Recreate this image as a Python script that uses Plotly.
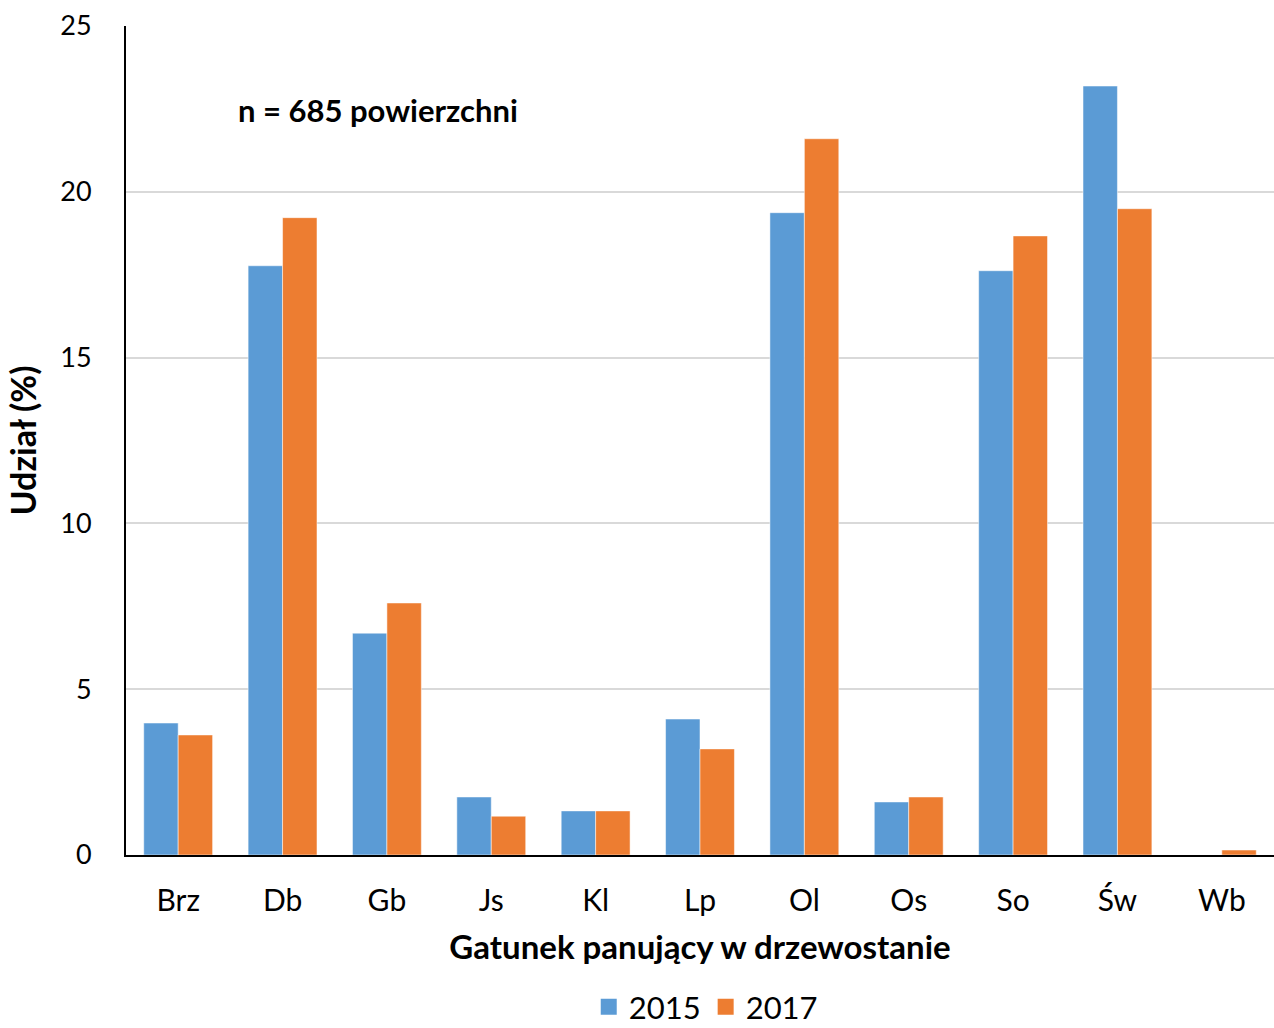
import plotly.graph_objects as go

categories = ["Brz", "Db", "Gb", "Js", "Kl", "Lp", "Ol", "Os", "So", "Św", "Wb"]
values_2015 = [3.98, 17.77, 6.69, 1.75, 1.33, 4.10, 19.37, 1.60, 17.62, 23.19, 0.0]
values_2017 = [3.62, 19.22, 7.60, 1.17, 1.33, 3.20, 21.60, 1.75, 18.67, 19.49, 0.15]
years = ["2015", "2017"]
colors = ["#5B9BD5", "#ED7D31"]
yticks = [0, 5, 10, 15, 20, 25]

FONT = "Lato"

fig = go.Figure()
for name, vals, col in zip(years, [values_2015, values_2017], colors):
    fig.add_trace(go.Bar(
        x=categories, y=vals, name=name, showlegend=False,
        marker=dict(color=col, line=dict(color="rgba(255,255,255,0.5)", width=1)),
    ))
# legend entries with larger square swatches
for name, col in zip(years, colors):
    fig.add_trace(go.Scatter(
        x=[None], y=[None], mode="markers", name=name,
        marker=dict(symbol="square", size=16, color=col),
    ))

fig.update_layout(
    width=1274, height=1028,
    margin=dict(l=126, r=0, t=26, b=173, autoexpand=False),
    paper_bgcolor="white", plot_bgcolor="white",
    barmode="group", bargap=0.34, bargroupgap=0,
    font=dict(family=FONT, color="black", size=27),
    showlegend=True,
    legend=dict(orientation="h", x=0.505, xanchor="center", y=-0.216, yanchor="bottom",
                font=dict(size=31), itemwidth=30, traceorder="normal",
                tracegroupgap=0),
    annotations=[dict(text="<b>n = 685 powierzchni</b>", xref="paper", yref="paper",
                      x=0.096, y=0.899, xanchor="left", yanchor="middle",
                      showarrow=False, font=dict(size=31))],
)
fig.update_xaxes(
    showline=True, linecolor="black", linewidth=2, ticks="", automargin=False,
    ticklabelstandoff=18, tickfont=dict(size=30),
    title=dict(text="<b>Gatunek panujący w drzewostanie</b>", font=dict(size=33), standoff=20),
)
fig.update_yaxes(
    range=[0, 25], tickvals=yticks, showline=True, linecolor="black", linewidth=2,
    showgrid=True, gridcolor="#D9D9D9", gridwidth=2, ticks="", zeroline=False,
    automargin=False, ticklabelstandoff=27,
    title=dict(text="<b>Udział (%)</b>", font=dict(size=34), standoff=13),
)

fig.write_html("out.html")
